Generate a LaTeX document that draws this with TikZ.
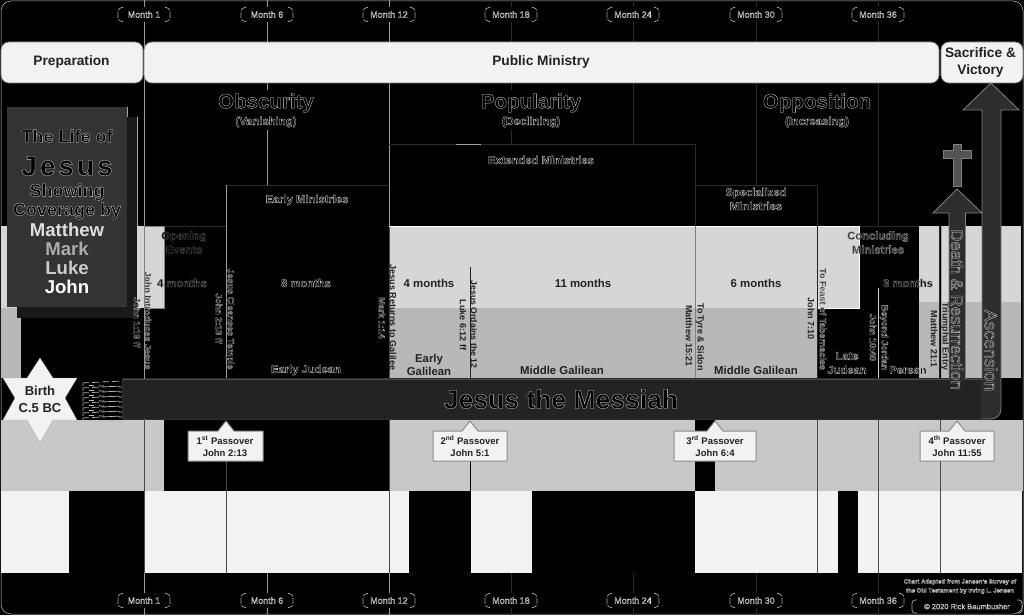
\documentclass[tikz,border=0pt]{standalone}
\usepackage{fontspec}
\setmainfont{Liberation Sans}
\newcommand\olt[2][0.85]{\special{pdf:code q 2 Tr 0.3 w #1 G 0 g}#2\special{pdf:code Q}}
\newcommand\olp[2][0.85]{\special{pdf:code q 2 Tr 0.3 w #1 G 0.16 g}#2\special{pdf:code Q}}
\definecolor{barw}{HTML}{F2F2F2}
\definecolor{lightb}{HTML}{D6D6D6}
\definecolor{midb}{HTML}{B8B8B8}
\definecolor{lowb}{HTML}{C8C8C8}
\definecolor{dbar}{HTML}{232323}
\definecolor{darr}{HTML}{2D2D2D}
\definecolor{ink}{HTML}{222222}
\definecolor{dimline}{HTML}{2A2A2A}
\tikzset{
  x=1pt,y=-1pt,
  hdr/.style={draw=gray,line width=0.8pt,fill=barw,rounded corners=8pt},
  lbl/.style={font=\bfseries\fontsize{11.4}{13.5}\selectfont,text=ink,align=center,inner sep=0},
  head/.style={font=\bfseries\fontsize{13.7}{17}\selectfont,text=ink,align=center,inner sep=0},
  vlab/.style={font=\bfseries\fontsize{9}{11}\selectfont,text=ink,rotate=-90,inner sep=0},
  olab/.style={font=\bfseries\fontsize{11.2}{13}\selectfont,align=center,inner sep=0},
  tlab/.style={font=\bfseries\fontsize{18}{20}\selectfont,align=center,inner sep=0},
  nlab/.style={font=\bfseries\fontsize{18.6}{20}\selectfont,align=center,inner sep=0},
  mlab/.style={font=\fontsize{9}{11}\selectfont,inner sep=0},
  phase/.style={font=\bfseries\fontsize{20.5}{24}\selectfont,inner sep=0},
  sub/.style={font=\bfseries\fontsize{11.3}{13}\selectfont,inner sep=0},
  gl/.style={draw=#1,line width=1pt},
  pbox/.style={draw=gray!90,line width=1pt,fill=barw,line join=round},
  ptxt/.style={font=\bfseries\fontsize{9.5}{12}\selectfont,text=ink,align=center,inner sep=0}
}
\newcommand\pass[3]{% left, right, apex
  \draw[pbox] (#1,431) -- ({#3-8},431) -- (#3,421) -- ({#3+8},431) -- (#2,431) -- (#2,461) -- (#1,461) -- cycle;
}
\newcommand\brkt[4]{% cx, cy, halfwidth, text
  \node[mlab] at (#1,#2) {\olt[0.8]{#4}};
  \draw[gray!70,line width=0.7pt,rounded corners=4pt,dash pattern=on 6pt off 1.5pt] ({#1-#3+5},{#2-7}) -- ({#1-#3},{#2-7}) -- ({#1-#3},{#2+7}) -- ({#1-#3+5},{#2+7});
  \draw[gray!70,line width=0.7pt,rounded corners=4pt,dash pattern=on 6pt off 1.5pt] ({#1+#3-5},{#2-7}) -- ({#1+#3},{#2-7}) -- ({#1+#3},{#2+7}) -- ({#1+#3-5},{#2+7});
}
\begin{document}
\begin{tikzpicture}
\useasboundingbox (0,0) rectangle (1024,615);
\fill[black] (0,0) rectangle (1024,615);
\draw[gray!50,line width=0.5pt,rounded corners=10pt] (1,1) rectangle (1023,614);

% bands upper
\fill[lightb] (1,226) rectangle (144,308);
\fill[midb] (1,308) rectangle (21,378);
\fill[lightb] (144,226) rectangle (164,308);
\fill[lightb] (389,226) rectangle (859,308);
\fill[midb] (389,308) rectangle (817,378);
\fill[lightb] (919,226) rectangle (1021,302);
\fill[midb] (919,302) rectangle (1021,378);
\fill[black] (939.5,226) rectangle (941.5,378);
% bands lower
\fill[lowb] (1,420) rectangle (164,491);
\fill[lowb] (389,420) rectangle (1023,491);
\fill[black] (695,420) rectangle (715,491);
\fill[barw] (1,491) rectangle (69,573);
\fill[barw] (144,491) rectangle (409,573);
\fill[barw] (471,491) rectangle (532,573);
\fill[barw] (695,491) rectangle (838,573);
\fill[barw] (858,491) rectangle (1022,573);

% month lines
\draw[gl=gray!80] (267,0) -- (267,185);
\draw[gl=gray!80] (267,573) -- (267,615);
\foreach \mx/\my in {511/144,633/144,756/185,878/226}{
  \draw[gl=dimline] (\mx,0) -- (\mx,\my);
  \draw[gl=dimline] (\mx,573) -- (\mx,615);
}
\draw[gl=gray!80] (144,0) -- (144,615);
\draw[gl=gray!80] (389,0) -- (389,226);
\draw[gl=gray!80] (389,573) -- (389,615);
\draw[gl=gray!60!black] (389,226) -- (389,378);
% section frames
\draw[gl=dimline,line width=0.7pt] (226,185) -- (389,185);
\draw[gl=dimline,line width=0.7pt] (389,144) -- (695,144) -- (695,226);
\draw[gl=dimline,line width=0.7pt] (695,185) -- (817,185) -- (817,226);
\draw[gl=gray!70,line width=0.7pt] (456,144) -- (481,144);
\draw[gl=dimline,line width=0.7pt] (859,226) -- (919,226);
\draw[gl=dimline,line width=0.7pt] (164,226) -- (226,226);
\draw[gl=white,line width=0.8pt] (389,226) -- (859,226) -- (859,308) -- (817,308);

% upper dividers
\draw[gl=gray!80] (226,185) -- (226,378);
\draw[gl=gray] (695,226) -- (695,378);
\draw[gl=gray!30!black] (817,226) -- (817,378);
\draw[gl=gray!30!black] (470,267) -- (470,378);
\draw[gl=gray!30!black] (939,226) -- (939,378);
\draw[gl=gray!35] (878,288) -- (878,378);
\draw[gl=gray!70] (941,226) -- (941,378);
\draw[gl=gray,line width=0.8pt] (144,226) rectangle (164,308);

% lower dividers
\draw[gl=gray!60!black] (144,420) -- (144,573);
\draw[gl=gray!60!black] (226,461) -- (226,573);
\draw[gl=gray!60!black] (389,420) -- (389,573);
\draw[gl=black] (470,461) -- (470,573);
\draw[gl=gray!60!black] (817,420) -- (817,573);
\draw[gl=gray!60!black] (878,420) -- (878,573);
\draw[gl=gray!60!black] (940,420) -- (940,573);

% header bars
\draw[hdr] (1,42) rectangle (143,83);
\draw[hdr] (144,42) rectangle (939,83);
\draw[hdr] (941,42) rectangle (1023,83);
\node[head] (prep) at (71.5,61.5) {Preparation};
\node[head] (pub) at (541,61.5) {Public Ministry};
\node[head] (sac) at (980.5,62) {Sacrifice \&\\Victory};

% months
\foreach \mx/\mt in {144/1,267/6,389/12,511/18,633/24,756/30,878/36}{
  \fill[black] ({\mx-26},7) rectangle ({\mx+26},22);
  \fill[black] ({\mx-26},593) rectangle ({\mx+26},608);
  \brkt{\mx}{14.5}{26}{Month \mt}
  \brkt{\mx}{600.5}{26}{Month \mt}
}

% phase titles
\fill[black] (218,90) rectangle (314,130);
\fill[black] (481,90) rectangle (581,130);
\fill[black] (760,90) rectangle (875,130);
\node[phase] (obs) at (266,103) {\olt{Obscurity}};
\node[sub] (van) at (266,122) {\olt{(Vanishing)}};
\node[phase] (popu) at (531,103) {\olt{Popularity}};
\node[sub] (dec) at (531,122) {\olt{(Declining)}};
\node[phase] (opp) at (817,103) {\olt{Opposition}};
\node[sub] (inc) at (817,122) {\olt{(Increasing)}};

% title panel
\fill[black!90!white] (17,117) rectangle (137,318);
\draw[gray!70,line width=0.7pt] (137,117) -- (137,226);
\draw[gray!70,line width=0.7pt] (127,107) -- (127,117);
\fill[black!80!white] (7,107) rectangle (127,307);
\node[tlab] (t1) at (67,136) {\olt{The Life of}};
\node[font=\bfseries\fontsize{28}{30}\selectfont,inner sep=0] (t2) at (67,166) {\olt{J\kern3pt e\kern3pt s\kern3pt u\kern3pt s}};
\node[tlab] (t3) at (67,192) {\olt{Showing}};
\node[tlab] (t4) at (67,211) {\olt{Coverage by}};
\node[nlab,text=white!87!black] (t5) at (67,230) {Matthew};
\node[nlab,text=gray!65] (t6) at (67,248.5) {Mark};
\node[nlab,text=white!80!black] (t7) at (67,267.5) {Luke};
\node[nlab,text=white] (t8) at (67,286.5) {John};

% section labels
\node[olab] (em) at (307,200) {\olt{Early Ministries}};
\node[olab] (xm) at (541,160) {\olt{Extended Ministries}};
\node[olab] (sm) at (756,199) {\olt{Specialized}\\[1pt]\olt{Ministries}};
\node[olab] (oe) at (184,242.5) {\olt[0.35]{Opening}\\[1pt]\olt[0.35]{Events}};
\node[olab] (cm) at (878,242.5) {\olp[0.65]{Concluding}\\[1pt]\olp[0.65]{Ministries}};
\node[olab] (m4a) at (182,283) {\olt[0.5]{4 months}};
\node[olab] (m8) at (306,283) {\olt{8 months}};
\node[lbl] (m4b) at (429,283) {4 months};
\node[lbl] (m11) at (583,283) {11 months};
\node[lbl] (m6) at (756,283) {6 months};
\node[olab] (m3) at (908,283) {\olt[0.6]{3 months}};
\node[olab] (ej) at (306,370) {\olt{Early Judean}};
\node[lbl] (eg) at (429,365) {Early\\Galilean};
\node[lbl] (mg1) at (562,370.5) {Middle Galilean};
\node[lbl] (mg2) at (756,370.5) {Middle Galilean};
\node[olab] (lj) at (847,363) {\olt{Late}\\[1pt]\olt{Judean}};
\node[olab] (per) at (908,370) {\olt{Perean}};

% vertical labels
\node[vlab] (v1) at (148,320.5) {\olp[0.65]{John Introduces Jesus}};
\node[vlab] (v2) at (137,322.5) {\olt[0.65]{John 1:19 ff}};
\node[vlab] (v3) at (230,319) {\olt[0.7]{Jesus Cleanses Temple}};
\node[vlab] (v4) at (219,318.5) {\olt[0.7]{John 2:13 ff}};
\node[vlab] (v5) at (393,317.5) {Jesus Returns to Galilee};
\node[vlab] (v6) at (382,318) {\olt[0.7]{Mark 1:14}};
\node[vlab,font=\bfseries\fontsize{8.7}{11}\selectfont] (v7) at (474,324.5) {Jesus Ordains the 12};
\node[vlab] (v8) at (463,325) {Luke 6:12 ff};
\node[vlab] (v9) at (700,337) {To Tyre \& Sidon};
\node[vlab] (v10) at (689,336) {Matthew 15:21};
\node[vlab] (v11) at (823,319) {\olp[0.7]{To Feast of Tabernacles}};
\node[vlab] (v12) at (811,318.5) {John 7:10};
\node[vlab] (v13) at (884,337.5) {\olt[0.75]{Beyond Jordan}};
\node[vlab] (v14) at (873,337.5) {\olt[0.75]{John 10:40}};
\node[vlab] (v15) at (945,336.5) {Triumphal Entry};
\node[vlab] (v16) at (934,339) {Matthew 21:1};

% hatching at the start of the bar
\fill[black] (80,379) rectangle (123,419);
\foreach \hy in {382,387,...,417}{
  \draw[gray!70,line width=0.8pt,dash pattern=on 7pt off 3pt] (82,\hy+1) -- (122,\hy-1);
  \draw[gray!55,line width=0.8pt,dash pattern=on 5pt off 5pt,dash phase=3pt] (82,\hy+3) -- (122,\hy+5);
}

% main bar and ascension arrow
\draw[gray,line width=0.8pt,fill=darr,line join=miter] (123,379) -- (982,379) -- (982,110) -- (963,110) -- (991,83) -- (1019,110) -- (1001,110) [rounded corners=10pt] -- (1001,419) [sharp corners] -- (123,419) -- cycle;
\fill[dbar] (123,379.5) rectangle (981,418.5);
% death arrow
\draw[gray,line width=0.8pt,fill=darr] (949,379) -- (949,213) -- (933,213) -- (957,189) -- (982,213) -- (965.5,213) -- (965.5,379);
\fill[darr] (949.5,376) rectangle (965,382);
% cross
\draw[gray,line width=0.6pt,fill=gray!65!black] (953,144) -- (961,144) -- (961,150) -- (971,150) -- (971,158) -- (961,158) -- (961,186) -- (953,186) -- (953,158) -- (943,158) -- (943,150) -- (953,150) -- cycle;

\node[font=\bfseries\fontsize{26.5}{28}\selectfont,inner sep=0] (jm) at (561,399) {\olt{Jesus the Messiah}};
\node[font=\fontsize{16.8}{22}\selectfont,rotate=-90,inner sep=0] (dr) at (957,309.5) {\olp{Death \& Resurrection}};
\node[font=\fontsize{17.7}{22}\selectfont,rotate=-90,inner sep=0] (asc) at (991,350.5) {\olp{Ascension}};

% star
\fill[barw,draw=gray!70,line width=0.4pt,line join=round] (40,358) -- (53,378) -- (77,378) -- (65,398) -- (77,420) -- (53,420) -- (40,443) -- (27,420) -- (3,420) -- (15,398) -- (3,378) -- (27,378) -- cycle;
\node[lbl,font=\bfseries\fontsize{13}{17}\selectfont] (birth) at (40,399.5) {Birth\\C.5 BC};

% passovers
\pass{188}{263}{226}
\pass{433}{507}{470}
\pass{674}{756}{715}
\pass{920}{994}{957}
\node[ptxt] (pt1) at (225,446) {1\textsuperscript{st} Passover\\John 2:13};
\node[ptxt] (pt2) at (470,446) {2\textsuperscript{nd} Passover\\John 5:1};
\node[ptxt] (pt3) at (715,446) {3\textsuperscript{rd} Passover\\John 6:4};
\node[ptxt] (pt4) at (957,446) {4\textsuperscript{th} Passover\\John 11:55};

% credits
\node[font=\bfseries\fontsize{6}{9}\selectfont,align=center,inner sep=0] (cr) at (960,586.5) {\olt[0.75]{Chart Adapted from Jensen's Survey of}\\\olt[0.75]{the Old Testament by Irving L. Jensen}};
\node[font=\fontsize{7.5}{9}\selectfont,inner sep=0] (cp) at (967,606.5) {\olt[0.75]{© 2020 Rick Baumbusher}};
\draw[gray!70,line width=0.7pt,rounded corners=3pt] (917,600) -- (912,600) -- (912,613) -- (917,613);
\draw[gray!70,line width=0.7pt,rounded corners=3pt] (1017,600) -- (1022,600) -- (1022,613) -- (1017,613);
\end{tikzpicture}
\end{document}
